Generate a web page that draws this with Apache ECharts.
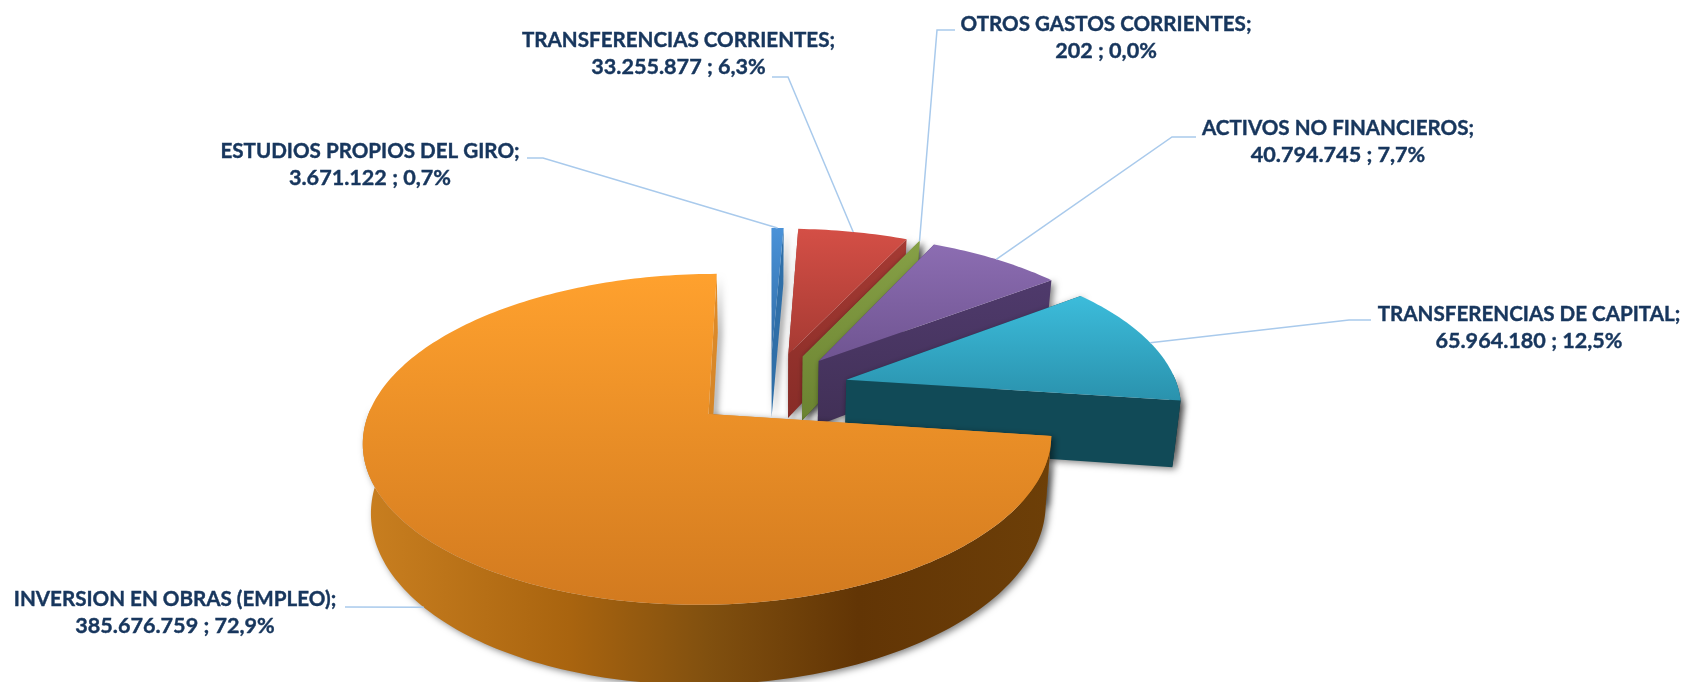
<!DOCTYPE html>
<html>
<head>
<meta charset="utf-8">
<title>Gastos</title>
<style>
html, body { margin: 0; padding: 0; background: #fff; }
#chart { width: 1686px; height: 682px; }
</style>
<script src="https://cdn.jsdelivr.net/npm/echarts@6/dist/echarts.min.js"></script>
</head>
<body>
<div id="chart"></div>
<script>
// datos, en sentido horario desde arriba
var categoryNames = [
    'ESTUDIOS PROPIOS DEL GIRO;',
    'TRANSFERENCIAS CORRIENTES;',
    'OTROS GASTOS CORRIENTES;',
    'ACTIVOS NO FINANCIEROS;',
    'TRANSFERENCIAS DE CAPITAL;',
    'INVERSION EN OBRAS (EMPLEO);'
];
var sliceValues = [3671122, 33255877, 202, 40794745, 65964180, 385676759];
var valueLabels = ['3.671.122', '33.255.877', '202', '40.794.745', '65.964.180', '385.676.759'];
var percentLabels = ['0,7%', '6,3%', '0,0%', '7,7%', '12,5%', '72,9%'];

// colores: cara superior (arriba, abajo), pared radial, pared exterior
var topColors = [
    ['#4a92d8', '#2f6ca6'],
    ['#d44f46', '#a63a33'],
    ['#8aa54a', '#8aa54a'],
    ['#8c6db2', '#6f5491'],
    ['#3cbcdb', '#2a92ad'],
    ['#ffa12e', '#d27a1f']
];
var wallColors = [
    ['#2f6fa8', '#2f6fa8'],
    ['#a53a33', '#872c27'],
    ['#86a046', '#6b8331'],
    ['#4f3a6c', '#413056'],
    ['#114a57', '#114a57'],
    ['#e08c2a', '#cf8226']
];
var outerStops = [
    null, null, null, null, null,
    [[0, '#c97f20'], [0.3, '#a9640f'], [0.5, '#81500f'], [0.72, '#623505'], [1, '#6d3f08']]
];

// posicion de textos y codo de las guias
var labelCenters = [[370, 151.5], [678.5, 40.5], [1106, 24.5], [1338, 128.5], [1529, 314.5], [175, 599.5]];
var leaderStarts = [[527, 158], [772, 77], [955, 30], [1196, 137], [1371, 320], [345, 607]];
var leaderElbows = [[543, 158], [788, 77], [937, 30], [1172, 137], [1349, 320], [345, 607]];

var centerX = 770, centerY = 389;
var radiusX = 332, radiusY = 154;
var perspective = 0.15, depth = 66, shrink = 0.02;
var explode = 0.24;
var lineGap = 27;

var total = sliceValues.reduce(function (a, b) { return a + b; }, 0);
var startAngles = [];
sliceValues.reduce(function (acc, v, i) {
    startAngles[i] = acc;
    return acc + v / total * Math.PI * 2;
}, 0);

function project(u, v, h) {
    var w = 1 / (1 + perspective * v);
    var x = u * radiusX * w * (1 - shrink * h);
    var y = -v * radiusY * w + h * depth * w;
    return [centerX + x, centerY + y];
}

function renderSlice(params, api) {
    var i = params.dataIndex;
    var span = api.value(0) / total * Math.PI * 2;
    var a0 = startAngles[i], a1 = a0 + span, mid = a0 + span / 2;
    var ou = explode * Math.sin(mid), ov = explode * Math.cos(mid);
    var steps = Math.max(2, Math.ceil(span / 0.02));
    var topArc = [], frontTop = [], frontLow = [];
    for (var s = 0; s <= steps; s++) {
        var a = a0 + span * s / steps;
        var u = ou + Math.sin(a), v = ov + Math.cos(a);
        topArc.push(project(u, v, 0));
        // la pared exterior solo se ve en la mitad delantera
        if (Math.cos(a) < 0.05) {
            frontTop.push(project(u, v, 0));
            frontLow.push(project(u, v, 1));
        }
    }
    var apexTop = project(ou, ov, 0), apexLow = project(ou, ov, 1);
    var shadow = { shadowBlur: 7, shadowColor: 'rgba(0,0,0,0.5)', shadowOffsetX: 3, shadowOffsetY: 2 };
    var vertical = function (c) {
        return { type: 'linear', x: 0, y: 0, x2: 0, y2: 1, colorStops: [{ offset: 0, color: c[0] }, { offset: 1, color: c[1] }] };
    };
    var wallFill = vertical(wallColors[i]);
    var outerFill = wallFill;
    if (outerStops[i]) {
        outerFill = {
            type: 'linear', x: 0, y: 0, x2: 1, y2: 0,
            colorStops: outerStops[i].map(function (p) { return { offset: p[0], color: p[1] }; })
        };
    }
    var poly = function (points, fill, extra) {
        return { type: 'polygon', shape: { points: points }, style: Object.assign({ fill: fill }, extra || {}), silent: true };
    };
    var radial = [
        poly([apexTop, project(ou + Math.sin(a0), ov + Math.cos(a0), 0), project(ou + Math.sin(a0), ov + Math.cos(a0), 1), apexLow], wallFill, shadow),
        poly([apexTop, project(ou + Math.sin(a1), ov + Math.cos(a1), 0), project(ou + Math.sin(a1), ov + Math.cos(a1), 1), apexLow], wallFill, shadow)
    ];
    var outer = frontTop.length > 1 ? [poly(frontTop.concat(frontLow.reverse()), outerFill, shadow)] : [];
    // porcion mayor: la pared exterior tapa a las radiales
    var children = span > Math.PI ? radial.concat(outer) : outer.concat(radial);
    children.push(poly([apexTop].concat(topArc), vertical(topColors[i])));

    // guia: a la cara superior, o al pie de la pared si el punto queda delante
    var anchor = project(ou + Math.sin(mid), ov + Math.cos(mid), Math.cos(mid) < -0.5 ? 1 : 0);
    children.push({
        type: 'polyline', silent: true,
        shape: { points: [leaderStarts[i], leaderElbows[i], anchor] },
        style: { fill: null, stroke: '#a9caec', lineWidth: 1.5 }
    });
    children.push({
        type: 'text', silent: true,
        style: { x: labelCenters[i][0], y: labelCenters[i][1], text: categoryNames[i], font: '700 20.6px Lato, "Noto Sans", sans-serif', fill: '#17365d', stroke: '#17365d', lineWidth: 0.4, textAlign: 'center', textVerticalAlign: 'middle' }
    });
    children.push({
        type: 'text', silent: true,
        style: { x: labelCenters[i][0], y: labelCenters[i][1] + lineGap, text: valueLabels[i] + ' ; ' + percentLabels[i], font: '700 21.6px Lato, "Noto Sans", sans-serif', fill: '#17365d', stroke: '#17365d', lineWidth: 0.4, textAlign: 'center', textVerticalAlign: 'middle' }
    });
    return { type: 'group', children: children };
}

var chart = echarts.init(document.getElementById('chart'));
chart.setOption({
    animation: false,
    backgroundColor: '#fff',
    series: [{
        type: 'custom',
        coordinateSystem: 'none',
        clip: false,
        renderItem: renderSlice,
        data: sliceValues.map(function (v) { return [v]; })
    }]
});
</script>
</body>
</html>
